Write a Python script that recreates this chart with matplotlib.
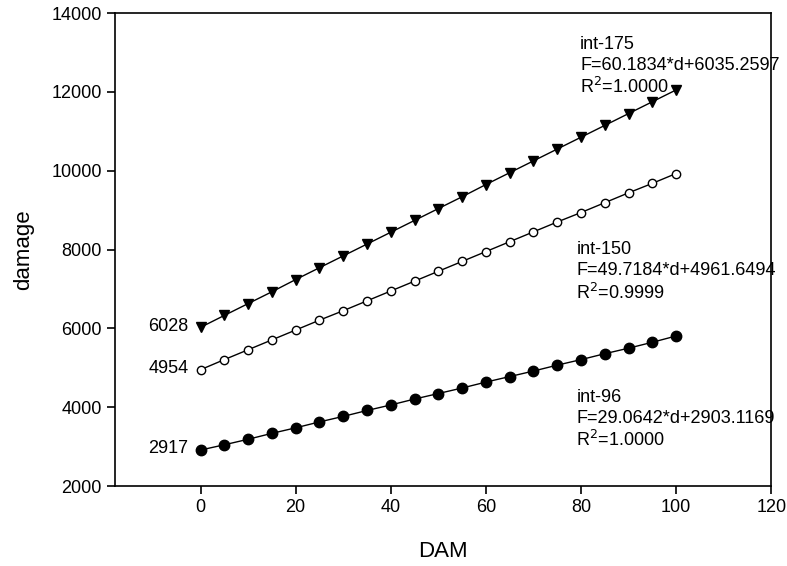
import matplotlib.pyplot as plt

plt.rcParams['font.family'] = ['Liberation Sans', 'DejaVu Sans']

dam = [0, 5, 10, 15, 20, 25, 30, 35, 40, 45, 50, 55, 60, 65, 70, 75, 80, 85, 90, 95, 100]

int_175 = [6028, 6330, 6630, 6930, 7240, 7540, 7840, 8140, 8440, 8740, 9040,
           9340, 9650, 9950, 10250, 10550, 10850, 11150, 11450, 11750, 12050]
int_150 = [4954, 5210, 5460, 5710, 5960, 6210, 6450, 6700, 6950, 7200, 7450,
           7700, 7950, 8200, 8450, 8700, 8940, 9190, 9440, 9680, 9930]
int_96 = [2917, 3050, 3190, 3340, 3480, 3630, 3770, 3920, 4060, 4210, 4350,
          4490, 4640, 4780, 4920, 5070, 5210, 5360, 5500, 5650, 5810]

start_labels = ['6028', '4954', '2917']

fig = plt.figure(figsize=(7.87, 5.66), dpi=100)
ax = fig.add_axes([0.146, 0.141, 0.834, 0.836])

ax.plot(dam, int_175, color='black', linewidth=1, marker='v', markersize=7.5)
ax.plot(dam, int_150, color='black', linewidth=1, marker='o', markersize=6,
        markerfacecolor='white', markeredgewidth=1)
ax.plot(dam, int_96, color='black', linewidth=1, marker='o', markersize=7.5)

fs = 13

# starting values to the left of the first point
for lab, series in zip(start_labels, [int_175, int_150, int_96]):
    ax.text(-2.5, series[0] + 30, lab, ha='right', va='center', fontsize=fs)

ax.text(79.8, 13213, 'int-175', va='center', fontsize=fs)
ax.text(79.8, 12680, 'F=60.1834*d+6035.2597', va='center', fontsize=fs)
ax.text(79.8, 12122, 'R$^2$=1.0000', va='center', fontsize=fs)

ax.text(79, 8012, 'int-150', va='center', fontsize=fs)
ax.text(79, 7479, 'F=49.7184*d+4961.6494', va='center', fontsize=fs)
ax.text(79, 6896, 'R$^2$=0.9999', va='center', fontsize=fs)

ax.text(79, 4258, 'int-96', va='center', fontsize=fs)
ax.text(79, 3725, 'F=29.0642*d+2903.1169', va='center', fontsize=fs)
ax.text(79, 3167, 'R$^2$=1.0000', va='center', fontsize=fs)

ax.set_xlim(-18, 120)
ax.set_ylim(2000, 14000)
ax.set_xticks([0, 20, 40, 60, 80, 100, 120])
ax.set_yticks([2000, 4000, 6000, 8000, 10000, 12000, 14000])
ax.tick_params(direction='out', length=6, width=1.2, labelsize=fs)
for s in ax.spines.values():
    s.set_linewidth(1.2)

ax.set_xlabel('DAM', fontsize=16, labelpad=18)
ax.set_ylabel('damage', fontsize=16, labelpad=12)

fig.savefig('out.png', dpi=100)
